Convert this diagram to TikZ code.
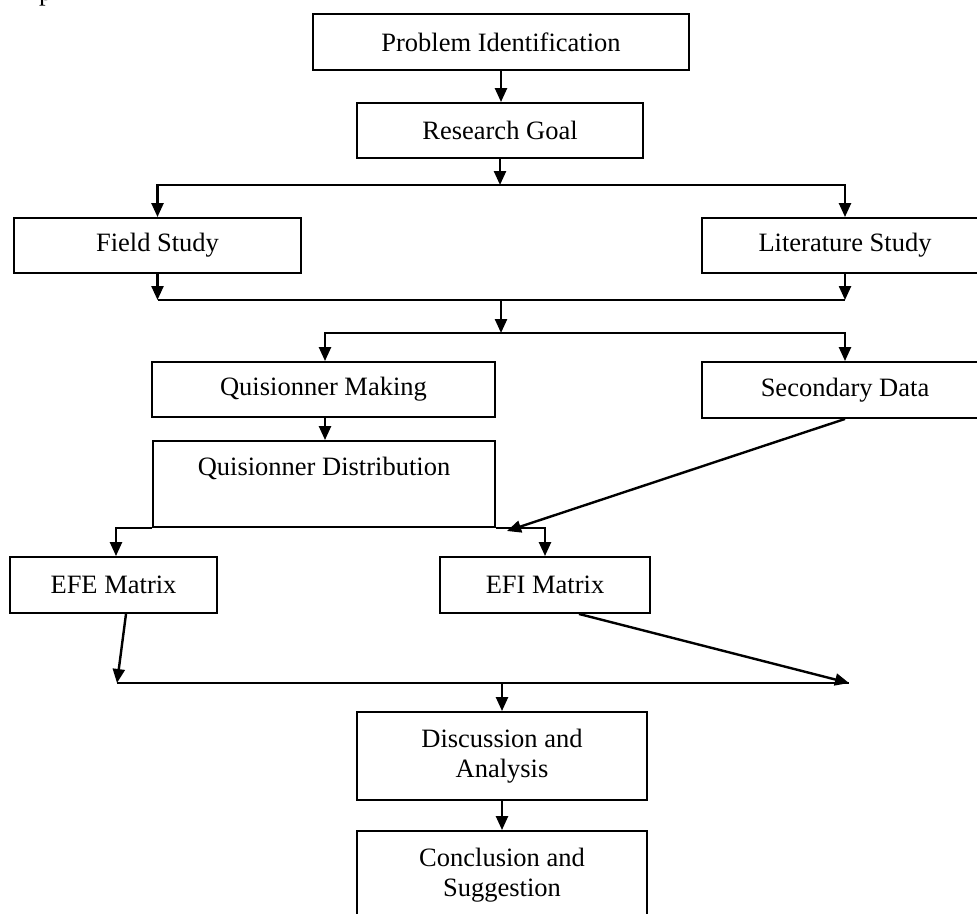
\documentclass[tikz,border=0pt]{standalone}
\usepackage{fontspec}
\setmainfont{Liberation Serif}
\usetikzlibrary{arrows.meta,calc}
\begin{document}
\begin{tikzpicture}[x=1pt,y=-1pt,
  every node/.style={font=\fontsize{26.5}{30}\selectfont},
  box/.style={draw=black,line width=1.9pt,inner sep=0pt,align=center},
  arr/.style={line width=2.4pt,-{Triangle[width=12pt,length=14pt]}},
  ln/.style={line width=2.4pt}]
\useasboundingbox (0,0) rectangle (977,913);
\fill[white] (0,0) rectangle (977,913);
\node[anchor=base west,inner sep=0pt] (frag) at (39,0.5) {p};
\node[box,minimum width=376pt,minimum height=56pt] (pi) at (501,42) {Problem Identification};
\node[box,minimum width=286pt,minimum height=55pt] (rg) at (500,130.5) {Research Goal};
\node[box,minimum width=287pt,minimum height=55pt] (fs) at (157.5,245.5) {Field Study};
\node[box,minimum width=286pt,minimum height=55pt] (ls) at (845,245.5) {Literature Study};
\node[box,minimum width=343pt,minimum height=55pt] (qm) at (323.5,389.5) {Quisionner Making};
\node[box,minimum width=286pt,minimum height=56pt] (sd) at (845,390) {Secondary Data};
\node[box,minimum width=342pt,minimum height=86pt] (qd) at (324,484) {};
\node[inner sep=0pt] (qdt) at (324,468) {Quisionner Distribution};
\node[box,minimum width=207pt,minimum height=56pt] (efe) at (113.5,585) {EFE Matrix};
\node[box,minimum width=210pt,minimum height=56pt] (efi) at (545,585) {EFI Matrix};
\node[box,minimum width=290pt,minimum height=88pt] (disc) at (502,756) {Discussion and\\Analysis};
\node[box,minimum width=290pt,minimum height=89pt] (conc) at (502,875.5) {Conclusion and\\Suggestion};
\coordinate (j1) at (501,185);
\coordinate (j2) at (501,300);
\coordinate (j3) at (501,333);
\coordinate (t1) at (507,531);
\coordinate (j5l) at (117,683);
\coordinate (j5r) at (849,683);
\coordinate (j5) at (502,683);
\draw[arr] (pi.south) -- (pi.south |- rg.north);
\draw[arr] (rg.south) -- (rg.south |- j1);
\draw[arr] (j1) -| (fs.north);
\draw[arr] (j1) -| (ls.north);
\draw[arr] (fs.south) -- (fs.south |- j2);
\draw[arr] (ls.south) -- (ls.south |- j2);
\draw[ln] (fs.south |- j2) -- (ls.south |- j2);
\draw[arr] (j2) -- (j3);
\draw[arr] (j3) -| ([xshift=1.5pt]qm.north);
\draw[arr] (j3) -| (sd.north);
\draw[arr] ([xshift=1.5pt]qm.south) -- ([xshift=1pt]qd.north);
\draw[arr] (qd.south west) -| ([xshift=2.5pt]efe.north);
\draw[arr] (qd.south east) -| (efi.north);
\draw[arr] (sd.south) -- (t1);
\draw[arr] ([xshift=12.5pt]efe.south) -- (j5l);
\draw[arr] ([xshift=34pt]efi.south) -- (j5r);
\draw[ln] (j5l) -- (j5r);
\draw[arr] (j5) -- (disc.north);
\draw[arr] (disc.south) -- (conc.north);
\end{tikzpicture}
\end{document}
